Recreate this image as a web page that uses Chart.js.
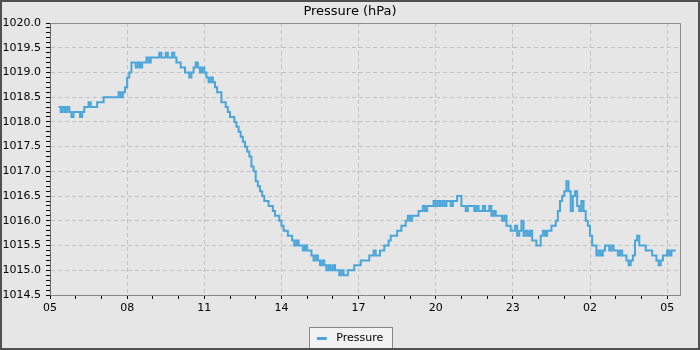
<!DOCTYPE html>
<html>
<head>
<meta charset="utf-8">
<script src="https://cdn.jsdelivr.net/npm/chart.js@4.4.0/dist/chart.umd.min.js"></script>
<style>
  body { margin: 0; }
  #wrap { width: 696px; height: 346px; border: 2px solid #505050; background: #e6e6e6; }
</style>
</head>
<body>
<div id="wrap"><canvas id="myChart"></canvas></div>
<script>
// Lecturas de presión (hPa) cada 5 minutos, la primera a las 05:20
const startHour = 20 / 60;   // horas desde las 05:00
const stepHours = 5 / 60;
const pressure = [
    1018.3, 1018.2, 1018.3, 1018.2, 1018.3, 1018.2, 1018.1, 1018.2,
    1018.2, 1018.2, 1018.1, 1018.2, 1018.3, 1018.3, 1018.4, 1018.3, 1018.3, 1018.3, 1018.4, 1018.4,
    1018.4, 1018.5, 1018.5, 1018.5, 1018.5, 1018.5, 1018.5, 1018.5, 1018.6, 1018.5, 1018.6, 1018.7,
    1018.9, 1019.0, 1019.2, 1019.2, 1019.1, 1019.2, 1019.1, 1019.2, 1019.2, 1019.3, 1019.2, 1019.3,
    1019.3, 1019.3, 1019.3, 1019.4, 1019.3, 1019.3, 1019.4, 1019.3, 1019.3, 1019.4, 1019.3, 1019.2,
    1019.2, 1019.1, 1019.1, 1019.0, 1019.0, 1018.9, 1019.0, 1019.1, 1019.2, 1019.1, 1019.0, 1019.1,
    1019.0, 1018.9, 1018.8, 1018.9, 1018.8, 1018.7, 1018.6, 1018.6, 1018.4, 1018.4, 1018.3, 1018.2,
    1018.1, 1018.1, 1018.0, 1017.9, 1017.8, 1017.7, 1017.6, 1017.5, 1017.4, 1017.3, 1017.1, 1017.0,
    1016.8, 1016.7, 1016.6, 1016.5, 1016.4, 1016.4, 1016.3, 1016.3, 1016.2, 1016.1, 1016.1, 1016.0,
    1015.9, 1015.8, 1015.8, 1015.7, 1015.7, 1015.6, 1015.5, 1015.6, 1015.5, 1015.5, 1015.4, 1015.5,
    1015.4, 1015.4, 1015.3, 1015.2, 1015.3, 1015.2, 1015.1, 1015.2, 1015.1, 1015.0, 1015.1, 1015.0,
    1015.1, 1015.0, 1015.0, 1014.9, 1015.0, 1014.9, 1014.9, 1015.0, 1015.0, 1015.0, 1015.1, 1015.1,
    1015.1, 1015.2, 1015.2, 1015.2, 1015.2, 1015.3, 1015.3, 1015.4, 1015.3, 1015.3, 1015.4, 1015.4,
    1015.5, 1015.5, 1015.6, 1015.7, 1015.7, 1015.7, 1015.8, 1015.8, 1015.9, 1015.9, 1016.0, 1016.1,
    1016.0, 1016.1, 1016.1, 1016.1, 1016.2, 1016.2, 1016.3, 1016.2, 1016.3, 1016.3, 1016.3, 1016.4,
    1016.3, 1016.4, 1016.3, 1016.4, 1016.3, 1016.4, 1016.4, 1016.3, 1016.4, 1016.4, 1016.5, 1016.5,
    1016.3, 1016.3, 1016.2, 1016.3, 1016.3, 1016.3, 1016.2, 1016.3, 1016.2, 1016.2, 1016.3, 1016.2,
    1016.2, 1016.3, 1016.1, 1016.2, 1016.1, 1016.1, 1016.1, 1016.0, 1016.1, 1015.9, 1015.9, 1015.8,
    1015.8, 1015.9, 1015.7, 1015.8, 1016.0, 1015.7, 1015.8, 1015.7, 1015.8, 1015.6, 1015.6, 1015.5,
    1015.5, 1015.7, 1015.8, 1015.7, 1015.8, 1015.8, 1015.9, 1015.9, 1016.0, 1016.2, 1016.4, 1016.5,
    1016.6, 1016.8, 1016.6, 1016.2, 1016.5, 1016.6, 1016.3, 1016.2, 1016.4, 1016.2, 1016.0, 1015.9,
    1015.7, 1015.5, 1015.5, 1015.3, 1015.4, 1015.3, 1015.4, 1015.5, 1015.5, 1015.4, 1015.5, 1015.4,
    1015.4, 1015.3, 1015.4, 1015.3, 1015.3, 1015.2, 1015.1, 1015.2, 1015.3, 1015.6, 1015.7, 1015.5,
    1015.5, 1015.5, 1015.4, 1015.4, 1015.4, 1015.3, 1015.3, 1015.2, 1015.1, 1015.2, 1015.3, 1015.3,
    1015.4, 1015.3, 1015.4, 1015.4, 1015.4
];

// Etiquetas de los ejes
const xTickHours = [0, 3, 6, 9, 12, 15, 18, 21, 24];
const xTickLabels = ['05', '08', '11', '14', '17', '20', '23', '02', '05'];
const yTickLabels = ['1014.5', '1015.0', '1015.5', '1016.0', '1016.5', '1017.0',
                     '1017.5', '1018.0', '1018.5', '1019.0', '1019.5', '1020.0'];

const lineColor = '#4aa6d9';
const gridColor = '#c3c3c3';

Chart.defaults.font.family = "'DejaVu Sans', sans-serif";
Chart.defaults.font.size = 11;
Chart.defaults.color = '#000';

// Muestra de la leyenda: línea corta
const swatch = document.createElement('canvas');
swatch.width = 14;
swatch.height = 3;
const sctx = swatch.getContext('2d');
sctx.fillStyle = lineColor;
sctx.fillRect(0, 0, 10, 3);

const points = pressure.map((p, i) => ({ x: startHour + i * stepHours, y: p }));

// Marco del área de datos y caja de la leyenda
const frames = {
    id: 'frames',
    beforeDraw(chart) {
        const hb = chart.legend && chart.legend.legendHitBoxes[0];
        if (!hb) return;
        const ctx = chart.ctx;
        const left = Math.round(hb.left) - 7.5;
        const top = Math.round(hb.top) - 5.5;
        const w = Math.round(hb.width) + 17;
        ctx.save();
        ctx.fillStyle = '#f2f2f2';
        ctx.strokeStyle = '#888';
        ctx.lineWidth = 1;
        ctx.fillRect(left, top, w, 30);
        ctx.strokeRect(left, top, w, 30);
        ctx.restore();
    },
    beforeDatasetsDraw(chart) {
        const { ctx, chartArea: a } = chart;
        ctx.save();
        ctx.strokeStyle = '#8c8c8c';
        ctx.lineWidth = 1;
        ctx.beginPath();
        ctx.moveTo(a.left, a.top + 0.5);
        ctx.lineTo(a.right + 0.5, a.top + 0.5);
        ctx.lineTo(a.right + 0.5, a.bottom);
        ctx.stroke();
        ctx.restore();
    }
};

function isHalf(v) {
    return Math.abs(v * 2 - Math.round(v * 2)) < 1e-6;
}

const ctx = document.getElementById('myChart').getContext('2d');
const chart = new Chart(ctx, {
    type: 'line',
    data: {
        datasets: [{
            label: 'Pressure',
            data: points,
            borderColor: lineColor,
            backgroundColor: lineColor,
            borderWidth: 2,
            pointRadius: 0,
            stepped: true,
            fill: false
        }]
    },
    plugins: [frames],
    options: {
        responsive: true,
        maintainAspectRatio: false,
        animation: false,
        layout: { padding: 0 },
        plugins: {
            title: {
                display: true,
                text: 'Pressure (hPa)',
                color: '#000',
                font: { size: 13, weight: 'normal' },
                padding: { top: 2.2, bottom: 3.2 }
            },
            legend: {
                position: 'bottom',
                maxHeight: 20,
                labels: {
                    usePointStyle: true,
                    pointStyle: swatch,
                    pointStyleWidth: 14,
                    padding: 5,
                    color: '#000'
                }
            },
            tooltip: { enabled: false }
        },
        scales: {
            x: {
                type: 'linear',
                min: 0,
                max: 24.5,
                afterFit: s => { s.height = 33; s.paddingRight = 18; },
                border: { color: '#888', dash: [4, 3] },
                grid: {
                    color: c => (c.tick && c.tick.value % 3 === 0) ? gridColor : 'transparent',
                    tickColor: '#000',
                    tickLength: 4
                },
                ticks: {
                    stepSize: 1,
                    includeBounds: false,
                    autoSkip: false,
                    maxRotation: 0,
                    padding: 3,
                    callback: v => {
                        const i = xTickHours.indexOf(v);
                        return i >= 0 ? xTickLabels[i] : '';
                    }
                }
            },
            y: {
                min: 1014.5,
                max: 1020,
                afterFit: s => { s.width = 48; },
                border: { color: '#666', dash: [4, 3] },
                grid: {
                    color: c => (c.tick && isHalf(c.tick.value)) ? gridColor : 'transparent',
                    tickColor: '#000',
                    tickLength: 4
                },
                ticks: {
                    stepSize: 0.1,
                    autoSkip: false,
                    padding: 5,
                    callback: v => {
                        const i = yTickLabels.indexOf(Number(v).toFixed(1));
                        return i >= 0 ? yTickLabels[i] : '';
                    }
                }
            }
        }
    }
});
</script>
</body>
</html>
